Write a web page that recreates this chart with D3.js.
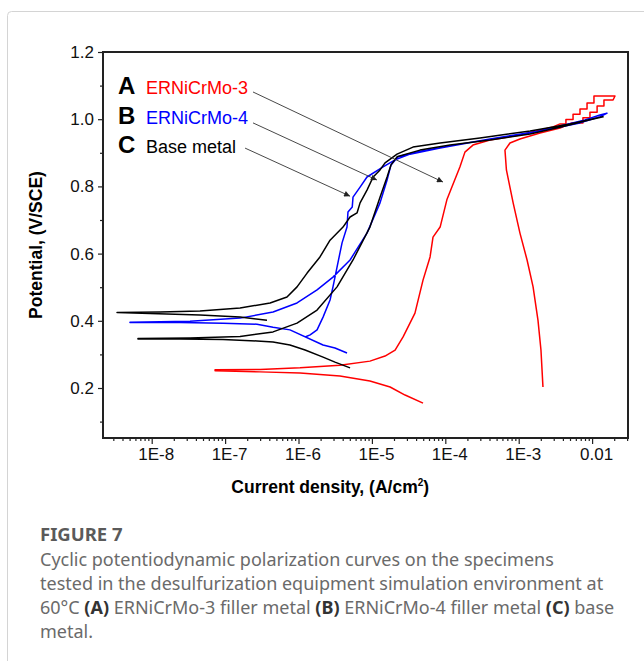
<!DOCTYPE html>
<html>
<head>
<meta charset="utf-8">
<script src="https://cdn.jsdelivr.net/npm/d3@7"></script>
<style>
  body { margin: 0; background: #fff; }
  svg { display: block; }
</style>
</head>
<body>
<div id="chart"></div>
<script>
// Courbes de polarisation cyclique : [densité de courant (A/cm2), potentiel (V/SCE)]
// A : ERNiCrMo-3 (aller puis retour)
const curveA = [
  [4.97e-5, 0.155], [2.83e-5, 0.179], [1.77e-5, 0.203], [9.4e-6, 0.221], [3.67e-6, 0.236],
  [1.05e-6, 0.245], [3.0e-7, 0.248], [7.3e-8, 0.251], [7.3e-8, 0.254], [3.0e-7, 0.255],
  [1.05e-6, 0.260], [3.67e-6, 0.268], [9.4e-6, 0.280], [1.51e-5, 0.295], [2.07e-5, 0.313],
  [2.66e-5, 0.352], [3.86e-5, 0.423], [4.97e-5, 0.521], [6.2e-5, 0.590], [6.8e-5, 0.649],
  [8.5e-5, 0.679], [1.05e-4, 0.760], [1.23e-4, 0.798], [1.58e-4, 0.858], [1.85e-4, 0.902],
  [2.38e-4, 0.923], [4.06e-4, 0.938], [1.04e-3, 0.953], [2.93e-3, 0.977], [3.66e-3, 0.986],
  [4.40e-3, 0.986], [4.40e-3, 0.999], [5.50e-3, 0.999], [5.50e-3, 1.015], [6.84e-3, 1.015],
  [6.84e-3, 1.030], [8.53e-3, 1.030], [8.53e-3, 1.048], [1.06e-2, 1.048], [1.06e-2, 1.069],
  [2.05e-2, 1.069], [1.93e-2, 1.057], [1.45e-2, 1.057], [1.45e-2, 1.039], [1.17e-2, 1.039],
  [1.17e-2, 1.021], [9.35e-3, 1.021], [9.35e-3, 1.004], [7.5e-3, 1.004], [7.5e-3, 0.989],
  [5.32e-3, 0.989], [3.66e-3, 0.974], [1.95e-3, 0.959], [1.04e-3, 0.941], [7.6e-4, 0.929],
  [6.5e-4, 0.908], [6.8e-4, 0.849], [8.4e-4, 0.751], [1.04e-3, 0.661], [1.3e-3, 0.581],
  [1.57e-3, 0.501], [1.83e-3, 0.402], [2.01e-3, 0.313], [2.14e-3, 0.203]
];

// B : ERNiCrMo-4
const curveB = [
  [4.58e-6, 0.304], [3.14e-6, 0.319], [2.16e-6, 0.328], [7.65e-7, 0.373], [4.5e-7, 0.381],
  [2.72e-7, 0.390], [9.35e-8, 0.393], [2.43e-8, 0.395], [5.06e-9, 0.395], [5.06e-9, 0.396],
  [3.33e-8, 0.399], [1.6e-7, 0.408], [4.5e-7, 0.426], [9.55e-7, 0.453], [1.79e-6, 0.492],
  [2.95e-6, 0.530], [5.04e-6, 0.581], [8.57e-6, 0.661], [1.29e-5, 0.751], [1.61e-5, 0.819],
  [1.82e-5, 0.864], [2.27e-5, 0.888], [4.52e-5, 0.905], [1.16e-4, 0.920], [4.06e-4, 0.941],
  [1.43e-3, 0.959], [3.66e-3, 0.980], [8.0e-3, 0.998], [1.28e-2, 1.0125], [1.6e-2, 1.018],
  [1.28e-2, 1.007], [6.84e-3, 0.989], [1.95e-3, 0.965], [4.06e-4, 0.941], [8.5e-5, 0.914],
  [3.3e-5, 0.896], [2.07e-5, 0.879], [1.42e-5, 0.858], [8.57e-6, 0.828], [6.9e-6, 0.798],
  [5.53e-6, 0.768], [5.4e-6, 0.739], [4.72e-6, 0.724], [4.58e-6, 0.679], [3.92e-6, 0.632],
  [3.35e-6, 0.560], [2.95e-6, 0.501], [2.69e-6, 0.462], [2.16e-6, 0.411], [1.79e-6, 0.373],
  [1.44e-6, 0.358], [1.23e-6, 0.352]
];

// C : métal de base
const curveC = [
  [5.04e-6, 0.260], [3.14e-6, 0.277], [2.16e-6, 0.292], [1.23e-6, 0.313], [7.65e-7, 0.328],
  [4.5e-7, 0.337], [2.72e-7, 0.340], [9.35e-8, 0.344], [2.43e-8, 0.346], [6.5e-9, 0.346],
  [6.5e-9, 0.347], [3.33e-8, 0.349], [1.6e-7, 0.353], [4.5e-7, 0.367], [9.55e-7, 0.393],
  [1.79e-6, 0.432], [3.35e-6, 0.501], [5.53e-6, 0.581], [9.4e-6, 0.679], [1.29e-5, 0.768],
  [1.61e-5, 0.828], [1.82e-5, 0.864], [2.2e-5, 0.888], [4.52e-5, 0.908], [1.16e-4, 0.923],
  [4.06e-4, 0.938], [1.43e-3, 0.956], [4.28e-3, 0.980], [9.35e-3, 0.998], [1.41e-2, 1.007],
  [1.2e-2, 1.004], [5.0e-3, 0.986], [1.43e-3, 0.965], [2.97e-4, 0.944], [8.5e-5, 0.929],
  [3.63e-5, 0.917], [2.2e-5, 0.896], [1.51e-5, 0.870], [1.29e-5, 0.849], [1.04e-5, 0.828],
  [8.57e-6, 0.789], [6.9e-6, 0.751], [6.27e-6, 0.721], [5.04e-6, 0.709], [4.04e-6, 0.679],
  [2.69e-6, 0.640], [1.96e-6, 0.590], [1.31e-6, 0.542], [9.55e-7, 0.501], [6.97e-7, 0.471],
  [4.1e-7, 0.453], [1.6e-7, 0.438], [4.55e-8, 0.429], [1.3e-8, 0.426], [3.37e-9, 0.425],
  [9.5e-9, 0.422], [4.55e-8, 0.417], [1.6e-7, 0.411], [3.72e-7, 0.402]
];

const seriesLetters = ["A", "B", "C"];
const seriesNames = ["ERNiCrMo-3", "ERNiCrMo-4", "Base metal"];
const seriesColors = ["#ff0000", "#0000ff", "#000000"];

// flèches de la légende : [départ, arrivée] en coordonnées des données
const arrows = [
  [[2.4e-7, 1.081], [9.3e-5, 0.813]],
  [[2.4e-7, 0.989], [1.17e-5, 0.819]],
  [[1.87e-7, 0.914], [5.04e-6, 0.771]]
];

const xTickValues = [1e-8, 1e-7, 1e-6, 1e-5, 1e-4, 1e-3, 1e-2];
const xTickLabels = ["1E-8", "1E-7", "1E-6", "1E-5", "1E-4", "1E-3", "0.01"];
const yTickValues = [0.2, 0.4, 0.6, 0.8, 1.0, 1.2];
const yMinorValues = [0.1, 0.3, 0.5, 0.7, 0.9, 1.1];

const captionTitle = "FIGURE 7";
const captionLines = [
  [["Cyclic potentiodynamic polarization curves on the specimens", false]],
  [["tested in the desulfurization equipment simulation environment at", false]],
  [["60°C ", false], ["(A)", true], [" ERNiCrMo-3 filler metal ", false], ["(B)", true],
   [" ERNiCrMo-4 filler metal ", false], ["(C)", true], [" base", false]],
  [["metal.", false]]
];

const W = 644, H = 661,
    margin = {top: 52, left: 103},
    width = 525,
    height = 386,
    font = "'Liberation Sans', Arial, sans-serif";

const svg = d3.select("#chart").append("svg")
    .attr("width", W)
    .attr("height", H);

// cadre de la carte
svg.append("path")
    .attr("d", "M7.5," + H + " V15.5 Q7.5,11.5 11.5,11.5 H" + W)
    .style("fill", "none")
    .style("stroke", "#d4d4d4")
    .style("stroke-width", 1);

const g = svg.append("g")
    .attr("transform", "translate(" + margin.left + "," + margin.top + ")");

const x = d3.scaleLog()
    .domain([Math.pow(10, -8.6635), Math.pow(10, -1.511)])
    .range([0, width]);

const y = d3.scaleLinear()
    .domain([0.0512, 1.2])
    .range([height, 0]);

// axe X : graduations principales + secondaires
const xAxis = g.append("g")
    .attr("transform", "translate(0," + height + ")")
    .call(d3.axisBottom(x)
        .tickValues(xTickValues)
        .tickFormat((d, i) => xTickLabels[i])
        .tickSize(6)
        .tickSizeOuter(0));

g.append("g")
    .attr("transform", "translate(0," + height + ")")
    .call(d3.axisBottom(x)
        .tickValues(x.ticks().filter(d => xTickValues.indexOf(d) < 0))
        .tickFormat("")
        .tickSize(3)
        .tickSizeOuter(0));

const yAxis = g.append("g")
    .call(d3.axisLeft(y)
        .tickValues(yTickValues)
        .tickFormat(d3.format(".1f"))
        .tickSize(5)
        .tickSizeOuter(0));

g.append("g")
    .call(d3.axisLeft(y)
        .tickValues(yMinorValues)
        .tickFormat("")
        .tickSize(3)
        .tickSizeOuter(0));

g.selectAll(".domain").remove();
g.selectAll(".tick line").style("stroke", "#222").style("stroke-width", 1.2);
g.selectAll(".tick text")
    .style("font-family", font)
    .style("font-size", "17px")
    .style("fill", "#111");
xAxis.selectAll(".tick text").attr("dx", "4").attr("y", 10);
yAxis.selectAll(".tick text").attr("x", -9);

// cadre du graphique
g.append("rect")
    .attr("width", width)
    .attr("height", height)
    .style("fill", "none")
    .style("stroke", "#222")
    .style("stroke-width", 2);

// courbes
const line = d3.line()
    .x(d => x(d[0]))
    .y(d => y(d[1]));

[curveA, curveB, curveC].forEach((c, i) => {
    g.append("path")
        .datum(c)
        .attr("d", line)
        .style("fill", "none")
        .style("stroke", seriesColors[i])
        .style("stroke-width", 1.5)
        .style("stroke-linejoin", "round");
});

// légende
svg.append("defs").append("marker")
    .attr("id", "arrow")
    .attr("viewBox", "0 0 10 10")
    .attr("refX", 10)
    .attr("refY", 5)
    .attr("markerWidth", 9)
    .attr("markerHeight", 6)
    .attr("markerUnits", "userSpaceOnUse")
    .attr("orient", "auto")
    .append("path")
    .attr("d", "M0,0 L10,5 L0,10 z")
    .style("fill", "#222");

const legend = g.append("g");
seriesLetters.forEach((l, i) => {
    legend.append("text")
        .attr("x", 15)
        .attr("y", 42 + i * 29.5)
        .style("font-family", font)
        .style("font-size", "24px")
        .style("font-weight", "bold")
        .text(l);
    legend.append("text")
        .attr("x", 43)
        .attr("y", 42 + i * 29.5)
        .style("font-family", font)
        .style("font-size", "18px")
        .style("fill", seriesColors[i])
        .text(seriesNames[i]);
});

arrows.forEach(a => {
    g.append("line")
        .attr("x1", x(a[0][0])).attr("y1", y(a[0][1]))
        .attr("x2", x(a[1][0])).attr("y2", y(a[1][1]))
        .style("stroke", "#333")
        .style("stroke-width", 0.9)
        .attr("marker-end", "url(#arrow)");
});

// titres des axes
svg.append("text")
    .attr("x", margin.left + x(Math.sqrt(1e-6 * 1e-5)) - 5)
    .attr("y", 493)
    .attr("text-anchor", "middle")
    .style("font-family", font)
    .style("font-size", "17.5px")
    .style("font-weight", "bold")
    .call(t => {
        t.append("tspan").text("Current density, (A/cm");
        t.append("tspan").attr("dy", -7).style("font-size", "10px").text("2");
        t.append("tspan").attr("dy", 7).text(")");
    });

svg.append("text")
    .attr("transform", "translate(42," + (margin.top + height / 2) + ") rotate(-90)")
    .attr("text-anchor", "middle")
    .style("font-family", font)
    .style("font-size", "17.5px")
    .style("font-weight", "bold")
    .text("Potential, (V/SCE)");

// légende de la figure
const cap = svg.append("g")
    .style("font-family", "'Noto Sans', 'Open Sans', sans-serif");

cap.append("text")
    .attr("x", 40)
    .attr("y", 541)
    .style("font-size", "18.5px")
    .style("font-weight", "bold")
    .style("fill", "#5a5a5a")
    .text(captionTitle);

captionLines.forEach((parts, i) => {
    const t = cap.append("text")
        .attr("x", 40)
        .attr("y", 566 + i * 24)
        .style("font-size", "18px")
        .style("fill", "#6a6a6a");
    parts.forEach(p => {
        t.append("tspan")
            .style("font-weight", p[1] ? "bold" : "normal")
            .style("fill", p[1] ? "#333" : "#6a6a6a")
            .text(p[0]);
    });
});
</script>
</body>
</html>
